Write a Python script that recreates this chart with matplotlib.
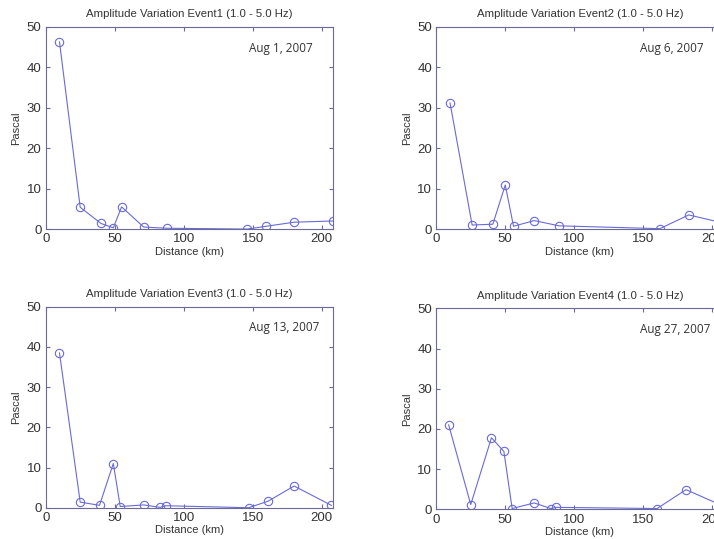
import matplotlib
matplotlib.use('Agg')
import matplotlib.pyplot as plt

# distances (km) and amplitudes (Pascal) per event
dist1 = [10, 25, 40, 49, 55, 71, 88, 146, 160, 180, 208]
amp1 = [46.3, 5.4, 1.4, 0.3, 5.5, 0.5, 0.2, 0.0, 0.7, 1.7, 2.0]

dist2 = [10, 26, 41, 50, 56, 71, 89, 162, 183, 208]
amp2 = [31.2, 1.0, 1.2, 10.9, 0.7, 2.1, 0.8, 0.1, 3.5, 1.5]

dist3 = [10, 25, 39, 49, 54, 71, 83, 87, 147, 161, 180, 207]
amp3 = [38.5, 1.4, 0.6, 11.0, 0.3, 0.7, 0.1, 0.5, 0.0, 1.6, 5.4, 0.6]

dist4 = [9, 25, 40, 49, 55, 71, 83, 87, 160, 181, 208]
amp4 = [21.0, 1.2, 17.8, 14.4, 0.2, 1.6, 0.2, 0.5, 0.2, 4.9, 0.8]

titles = ['Amplitude Variation Event1 (1.0 - 5.0 Hz)',
          'Amplitude Variation Event2 (1.0 - 5.0 Hz)',
          'Amplitude Variation Event3 (1.0 - 5.0 Hz)',
          'Amplitude Variation Event4 (1.0 - 5.0 Hz)']
dates = ['Aug 1, 2007', 'Aug 6, 2007', 'Aug 13, 2007', 'Aug 27, 2007']

plt.rcParams['font.family'] = ['Liberation Sans', 'DejaVu Sans']

line_col = '#6a6ad8'
frame_col = '#6a6a9a'
text_col = '#333333'

fig = plt.figure(figsize=(7.14, 5.39), dpi=100)

# right column axes run past the figure edge, as in the scanned original
positions = [(0.064, 0.575, 0.402, 0.375),
             (0.611, 0.575, 0.402, 0.375),
             (0.064, 0.058, 0.402, 0.373),
             (0.611, 0.055, 0.402, 0.373)]
data = [(dist1, amp1), (dist2, amp2), (dist3, amp3), (dist4, amp4)]

for pos, (d, a), title, date in zip(positions, data, titles, dates):
    ax = fig.add_axes(pos)
    ax.plot(d, a, '-o', color=line_col, lw=0.8, markersize=6,
            markerfacecolor='none', markeredgewidth=0.8)
    ax.set_xlim(0, 208)
    ax.set_ylim(0, 50)
    ax.set_xticks([0, 50, 100, 150, 200])
    ax.set_yticks([0, 10, 20, 30, 40, 50])
    ax.tick_params(direction='in', length=3, top=True, right=True,
                   labelsize=9.5, colors=frame_col, labelcolor=text_col,
                   pad=3)
    for s in ax.spines.values():
        s.set_color(frame_col)
        s.set_linewidth(0.8)
    ax.set_title(title, fontsize=8.2, color=text_col, pad=7)
    ax.set_xlabel('Distance (km)', fontsize=8, color=text_col, labelpad=1)
    ax.set_ylabel('Pascal', fontsize=8, color=text_col, labelpad=4)
    ax.text(0.71, 0.895, date, transform=ax.transAxes, fontsize=8.5,
            color=text_col, ha='left', va='center',
            family=['Open Sans', 'DejaVu Sans'])

fig.savefig('out.png', dpi=100)
